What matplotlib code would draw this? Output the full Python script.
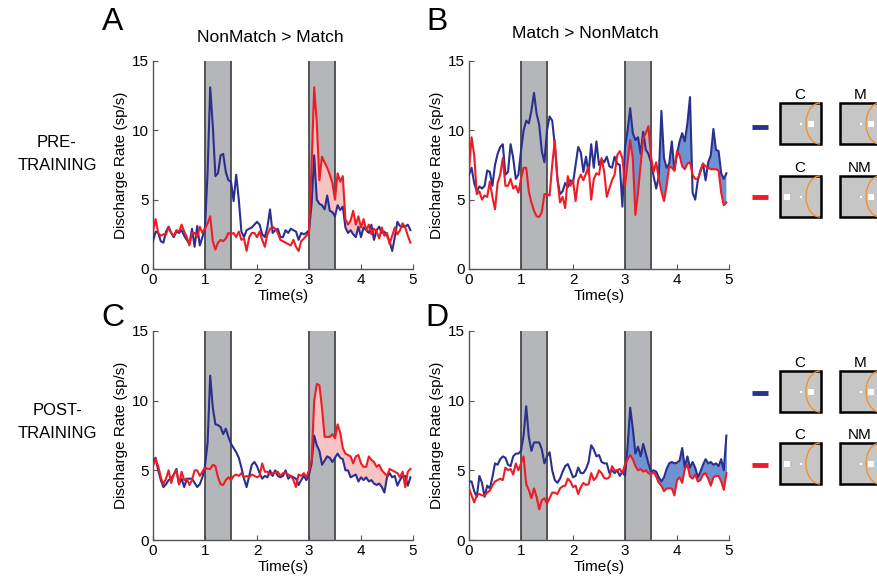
import numpy as np
import matplotlib
matplotlib.use('Agg')
import matplotlib.pyplot as plt
from matplotlib.patches import Rectangle, Arc

plt.rcParams['font.family'] = ['Liberation Sans', 'DejaVu Sans']

# time bins (s), 50 ms
t = np.arange(100) * 0.05

# A: pre-training, NonMatch > Match
a_blue = [2.0, 2.7, 2.6, 2.0, 1.9, 2.7, 3.05, 2.6, 2.3, 2.7,
          2.6, 2.8, 2.4, 2.1, 1.8, 2.9, 1.6, 3.1, 1.7, 2.3,
          3.0, 7.0, 13.1, 10.3, 6.7, 6.9, 8.2, 8.3, 7.0, 6.4,
          6.3, 4.9, 6.8, 5.0, 2.7, 2.3, 2.8, 2.9, 3.0, 3.2,
          3.4, 3.2, 2.5, 2.3, 3.0, 4.3, 2.6, 2.8, 2.9, 2.3,
          2.3, 2.8, 2.6, 2.9, 2.8, 2.7, 2.1, 2.6, 2.5, 2.6,
          2.8, 4.7, 8.2, 5.0, 4.7, 4.6, 4.3, 5.3, 4.2, 4.1,
          3.8, 4.6, 4.25, 4.5, 3.0, 2.6, 2.8, 2.5, 2.3, 3.05,
          2.3, 3.0, 2.8, 2.6, 3.2, 2.1, 2.8, 3.05, 2.6, 2.7,
          2.4, 2.0, 1.3, 2.3, 3.4, 3.1, 3.05, 3.05, 3.2, 2.8]
a_red = [2.7, 3.6, 2.6, 2.4, 2.5, 2.5, 3.0, 2.6, 2.4, 2.8,
         2.7, 3.2, 2.7, 2.3, 1.7, 2.6, 2.6, 2.3, 3.05, 2.6,
         2.9, 3.3, 3.8, 2.0, 1.4, 1.9, 2.1, 2.0, 2.2, 2.6,
         2.5, 2.6, 2.3, 2.7, 2.1, 2.2, 1.3, 2.3, 2.6, 2.6,
         2.3, 2.7, 2.1, 1.6, 2.5, 2.9, 3.05, 2.9, 2.6, 2.1,
         2.0, 1.9, 1.8, 1.7, 2.1, 1.6, 1.3, 2.0, 2.2, 2.4,
         2.6, 7.5, 13.1, 10.5, 6.4, 8.1, 7.7, 7.3, 6.8, 6.2,
         5.0, 6.9, 6.3, 6.7, 3.6, 3.2, 3.5, 4.2, 3.2, 3.8,
         3.0, 3.6, 2.8, 3.2, 2.5, 2.9, 2.7, 2.2, 3.0, 2.4,
         2.6, 1.8, 2.4, 3.0, 2.5, 2.8, 3.3, 3.0, 2.4, 1.9]

# B: pre-training, Match > NonMatch
b_blue = [6.8, 7.3, 6.2, 5.6, 5.95, 5.8, 6.0, 7.1, 7.0, 6.0,
          7.5, 8.3, 8.8, 9.0, 6.8, 7.0, 9.0, 8.0, 6.5, 6.8,
          8.5, 10.0, 10.7, 10.5, 11.4, 12.7, 11.2, 10.4, 8.5, 7.7,
          10.0, 11.0, 10.7, 8.9, 6.5, 5.4, 5.6, 6.2, 5.9, 6.4,
          6.2, 7.5, 8.8, 8.4, 7.0, 8.1, 6.9, 9.0, 7.3, 9.2,
          7.5, 7.9, 7.7, 8.1, 7.4, 7.3, 8.1, 7.6, 7.5, 4.5,
          8.8, 10.0, 11.6, 9.8, 9.3, 9.5, 8.3, 9.9, 8.6, 8.3,
          7.7, 6.7, 5.8, 6.7, 11.4, 8.0, 7.3, 7.6, 9.2, 7.1,
          8.3, 9.2, 9.8, 9.2, 10.5, 12.4, 5.5, 5.0, 6.4, 7.1,
          7.6, 6.4, 7.7, 8.2, 10.1, 8.6, 8.5, 6.9, 6.5, 6.9]
b_red = [7.1, 9.5, 8.2, 5.4, 5.6, 5.0, 5.3, 5.2, 6.3, 5.2,
         4.3, 6.2, 6.8, 8.0, 6.0, 6.0, 6.5, 5.8, 6.0, 5.5,
         6.5, 7.3, 7.3, 5.6, 4.8, 4.2, 3.8, 3.75, 4.1, 5.4,
         5.4, 5.3, 7.5, 9.3, 6.5, 4.8, 5.2, 4.4, 6.7, 6.0,
         6.4, 4.9, 6.4, 6.8, 6.4, 6.9, 7.4, 5.0, 6.5, 6.9,
         6.8, 8.0, 7.0, 5.2, 5.8, 6.4, 6.8, 8.2, 8.5, 8.0,
         6.0, 7.7, 9.3, 8.0, 3.9, 5.5, 7.5, 9.4, 9.8, 10.3,
         8.1, 7.0, 7.7, 6.5, 5.6, 4.9, 6.0, 7.4, 7.3, 7.1,
         8.5, 8.2, 7.4, 7.2, 7.6, 7.7, 6.8, 6.5, 6.5, 7.0,
         7.6, 7.4, 7.3, 7.2, 7.2, 7.2, 7.1, 5.5, 4.6, 4.8]

# C: post-training, NonMatch > Match
c_blue = [5.7, 5.9, 5.0, 4.3, 3.8, 4.0, 4.3, 4.4, 4.7, 5.1,
          4.0, 4.4, 3.8, 4.4, 4.4, 4.4, 4.1, 3.8, 4.0, 4.5,
          5.3, 7.0, 11.8, 9.5, 8.3, 8.25, 8.1, 7.6, 8.0, 7.4,
          6.9, 6.6, 6.3, 5.9, 5.2, 4.4, 3.8, 4.6, 5.4, 5.6,
          5.3, 4.8, 4.4, 4.6, 4.5, 5.0, 4.6, 5.0, 4.6, 4.5,
          4.6, 5.0, 4.4, 4.6, 4.5, 4.4, 3.95, 4.3, 4.6, 4.3,
          4.7, 5.5, 7.5, 6.8, 6.4, 5.4, 5.7, 6.0, 5.9, 5.6,
          5.9, 6.2, 5.9, 5.8, 5.0, 5.0, 4.5, 4.6, 4.7, 4.2,
          4.5, 4.3, 4.5, 4.2, 4.3, 4.05, 3.95, 4.05, 3.8, 3.4,
          4.5, 4.8, 4.5, 4.6, 3.9, 4.3, 4.6, 4.6, 3.9, 4.5]
c_red = [5.3, 5.8, 5.3, 4.5, 4.0, 4.4, 5.0, 4.1, 4.7, 5.0,
         4.0, 4.9, 4.3, 4.4, 3.95, 4.3, 5.0, 5.0, 4.6, 4.9,
         5.2, 5.1, 5.1, 5.4, 5.3, 4.5, 4.0, 3.95, 4.3, 4.5,
         4.3, 4.6, 4.7, 4.6, 4.8, 4.5, 4.6, 4.5, 4.7, 4.6,
         4.5, 4.6, 5.5, 4.9, 4.9, 4.7, 4.8, 4.8, 4.9, 4.6,
         4.8, 4.8, 4.7, 4.6, 4.3, 3.8, 4.7, 4.6, 4.8, 4.5,
         5.0, 5.7, 10.0, 11.2, 11.1, 9.5, 7.4, 7.4, 7.4, 7.6,
         7.3, 8.3, 7.7, 6.6, 6.2, 6.1, 6.0, 5.5, 6.0, 6.1,
         5.5, 5.25, 5.25, 6.0, 5.75, 5.6, 5.25, 5.4, 5.0, 4.8,
         4.6, 5.1, 5.0, 4.9, 4.8, 4.5, 4.9, 3.8, 4.9, 5.1]

# D: post-training, Match > NonMatch
d_blue = [4.2, 4.2, 3.5, 3.1, 4.6, 4.1, 3.1, 3.9, 3.7, 4.5,
          5.5, 5.4, 5.8, 6.0, 5.9, 5.4, 5.3, 6.0, 6.2, 6.2,
          6.4, 7.5, 9.6, 7.4, 6.4, 7.0, 7.0, 7.0, 6.5, 5.5,
          6.0, 6.3, 5.0, 4.3, 4.1, 4.4, 4.9, 5.3, 5.45, 5.0,
          4.5, 4.6, 5.2, 4.8, 4.8, 5.1, 5.6, 6.8, 6.5, 6.0,
          6.1, 5.6, 5.5, 5.5, 4.8, 5.0, 4.8, 5.0, 4.6, 4.9,
          4.6, 6.7, 9.5, 8.0, 6.2, 6.7, 6.0, 6.9, 6.2, 5.5,
          4.9, 5.0, 4.9, 4.5, 4.2, 4.5, 5.1, 5.5, 5.6, 5.5,
          5.55, 5.7, 6.6, 5.2, 6.0, 5.2, 5.6, 5.2, 4.5, 4.9,
          5.4, 5.8, 5.5, 5.6, 5.4, 5.5, 5.3, 5.8, 5.0, 7.5]
d_red = [3.7, 3.2, 2.7, 3.2, 3.3, 3.2, 3.2, 3.4, 3.55, 3.9,
         4.2, 4.3, 4.4, 4.3, 5.2, 5.0, 5.1, 4.7, 5.5, 5.0,
         5.5, 6.0, 4.0, 3.6, 3.0, 3.7, 3.1, 2.2, 2.85, 3.0,
         2.6, 3.0, 3.4, 3.4, 3.3, 3.7, 3.85, 3.9, 4.4, 4.2,
         3.8, 3.9, 3.3, 3.8, 4.1, 3.95, 4.0, 4.8, 4.3, 4.5,
         5.0, 4.8, 4.45, 4.4, 4.5, 5.3, 5.0, 5.0, 5.1, 4.8,
         5.4, 5.8, 6.1, 5.8, 5.3, 5.0, 5.1, 4.9, 5.0, 4.8,
         4.7, 4.9, 4.55, 4.1, 3.9, 3.5, 3.7, 3.7, 3.7, 3.2,
         4.3, 4.5, 4.1, 5.1, 5.4, 4.55, 4.4, 4.7, 4.2, 4.3,
         4.7, 4.8, 4.4, 3.9, 4.5, 4.6, 4.6, 4.2, 3.6, 4.8]

stim_windows = [(1.0, 1.5), (3.0, 3.5)]
BLUE = '#2b2f8e'
RED = '#ee1d25'
PINK = '#f7c3c3'
LIGHTBLUE = '#6f93d2'
AXGRAY = '#555555'

fig = plt.figure(figsize=(8.77, 5.79), dpi=100)
W, H = 877, 579


def px_axes(x0, y0, x1, y1):
    return fig.add_axes([x0 / W, 1 - y1 / H, (x1 - x0) / W, (y1 - y0) / H])


def panel(ax, blue, red, win, blue_greater):
    blue = np.array(blue)
    red = np.array(red)
    for s, e in stim_windows:
        ax.axvspan(s, e, color='#b4b6b9', zorder=1, lw=0)
        ax.axvline(s, color='#4a4a4a', lw=1.3, zorder=2)
        ax.axvline(e, color='#4a4a4a', lw=1.3, zorder=2)
    mask = (t >= win[0]) & (t <= win[1])
    if blue_greater:
        ax.fill_between(t, red, blue, where=mask & (blue >= red), interpolate=True,
                        color=LIGHTBLUE, lw=0, zorder=3)
    else:
        ax.fill_between(t, blue, red, where=mask & (red >= blue), interpolate=True,
                        color=PINK, lw=0, zorder=3)
    ax.plot(t, blue, color=BLUE, lw=1.5, zorder=4)
    ax.plot(t, red, color=RED, lw=1.5, zorder=5)
    ax.set_xlim(0, 5)
    ax.set_ylim(0, 15)
    ax.set_xticks([0, 1, 2, 3, 4, 5])
    ax.set_yticks([0, 5, 10, 15])
    for sp in ['top', 'right']:
        ax.spines[sp].set_visible(False)
    for sp in ['left', 'bottom']:
        ax.spines[sp].set_color(AXGRAY)
        ax.spines[sp].set_linewidth(1.0)
    ax.tick_params(direction='in', length=3.5, color=AXGRAY, labelsize=11, pad=3)
    ax.set_xlabel('Time(s)', fontsize=11, labelpad=1)
    ax.set_ylabel('Discharge Rate (sp/s)', fontsize=11, labelpad=3)


axA = px_axes(153, 61, 413, 269)
axB = px_axes(469, 61, 729, 269)
axC = px_axes(153, 331, 413, 540)
axD = px_axes(469, 331, 729, 540)

panel(axA, a_blue, a_red, (3.05, 4.35), False)
panel(axB, b_blue, b_red, (3.0, 4.95), True)
panel(axC, c_blue, c_red, (3.05, 4.5), False)
panel(axD, d_blue, d_red, (3.0, 4.95), True)

# overlay in pixel coordinates for labels and icons
ov = fig.add_axes([0, 0, 1, 1], zorder=-1)
ov.set_xlim(0, W)
ov.set_ylim(H, 0)
ov.axis('off')

for lab, x, y in [('A', 113, 22), ('B', 437, 22), ('C', 113, 318), ('D', 437, 318)]:
    fig.text(x / W, 1 - y / H, lab, fontsize=23, ha='center', va='center')
fig.text(270 / W, 1 - 38 / H, 'NonMatch > Match', fontsize=12.5, ha='center', va='center')
fig.text(585 / W, 1 - 34 / H, 'Match > NonMatch', fontsize=12.5, ha='center', va='center')
fig.text(57 / W, 1 - 154 / H, 'PRE-\nTRAINING', fontsize=12, ha='center', va='center',
         linespacing=1.7)
fig.text(57 / W, 1 - 422 / H, 'POST-\nTRAINING', fontsize=12, ha='center', va='center',
         linespacing=1.7)


def icon(x0, y0, size, target):
    ov.add_patch(Rectangle((x0, y0), size, size, facecolor='#c6c6c6',
                           edgecolor='black', lw=1.8, clip_on=False))
    cx = x0 + size
    cy = y0 + size / 2
    ov.add_patch(Arc((cx - 1, cy), 28, size, theta1=90, theta2=270,
                     color='#f0922e', lw=1.0, clip_on=False))
    ov.add_patch(Rectangle((x0 + size / 2 - 1, cy - 1), 2, 2, facecolor='white',
                           lw=0, clip_on=False))
    if target == 'right':
        tx = x0 + size - 10
    else:
        tx = x0 + 7
    ov.add_patch(Rectangle((tx - 3, cy - 3), 6, 6, facecolor='white', lw=0,
                           clip_on=False))


rows = [
    (127, 103, BLUE, ['C', 'M'], ['right', 'right']),
    (197, 176, RED, ['C', 'NM'], ['left', 'right']),
    (393, 371, BLUE, ['C', 'M'], ['right', 'right']),
    (465, 443, RED, ['C', 'NM'], ['left', 'right']),
]
for ly, by, col, labs, tg in rows:
    ov.plot([752, 768], [ly, ly], color=col, lw=3.5, solid_capstyle='butt')
    for bx, lab, tt in zip([780, 840], labs, tg):
        icon(bx, by, 41, tt)
        fig.text((bx + 20) / W, 1 - (by - 8) / H, lab, fontsize=11,
                 ha='center', va='center')

fig.savefig('out.png', dpi=100)
